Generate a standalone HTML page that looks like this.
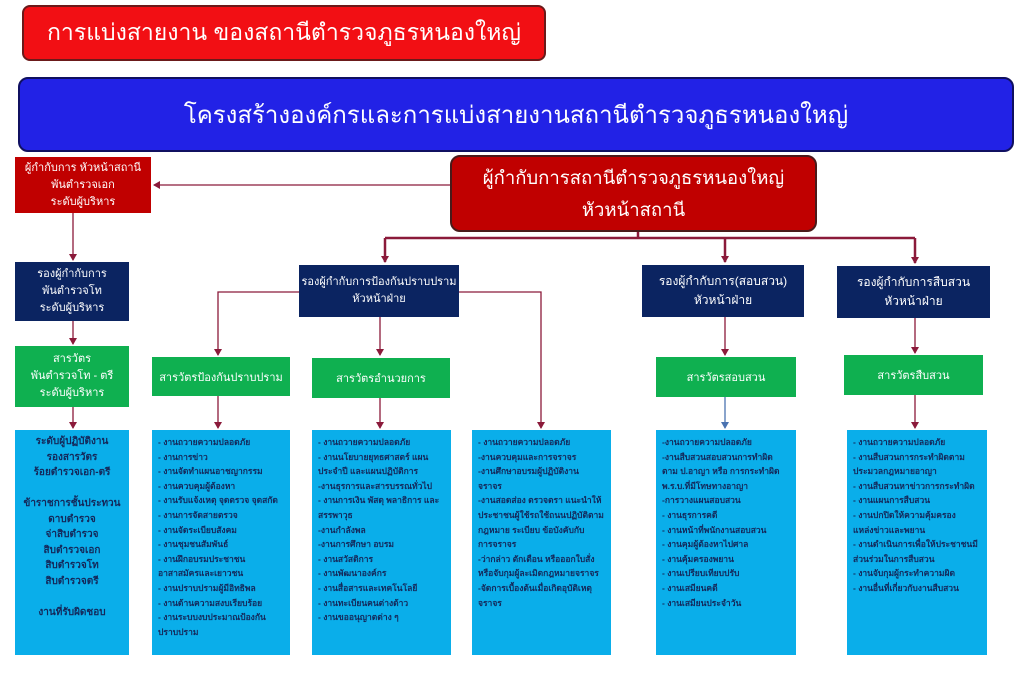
<!DOCTYPE html>
<html><head><meta charset="utf-8">
<style>
body{margin:0;width:1024px;height:673px;background:#fff;position:relative;overflow:hidden;font-family:"Liberation Sans","DejaVu Sans",sans-serif;}
.b{position:absolute;box-sizing:border-box;display:flex;align-items:center;justify-content:center;text-align:center;color:#fff;}
.red{background:#c00000;}
.navy{background:#0b2461;}
.green{background:#0fb050;}
.list{position:absolute;box-sizing:border-box;background:#0aaeea;color:#14285a;font-size:8.5px;font-weight:bold;line-height:14.6px;padding:5px 6px;}
svg{position:absolute;left:0;top:0;}
</style></head><body>
<svg width="1024" height="673">
<defs>
<marker id="a" markerWidth="8" markerHeight="8" refX="6" refY="4" orient="auto" markerUnits="userSpaceOnUse"><path d="M0,0 L7,4 L0,8z" fill="#8b1a3a"/></marker>
<marker id="bl" markerWidth="8" markerHeight="8" refX="6" refY="4" orient="auto" markerUnits="userSpaceOnUse"><path d="M0,0 L7,4 L0,8z" fill="#4a72b0"/></marker>
</defs>
<g stroke="#8b1a3a" fill="none" stroke-width="1.3">
<line x1="450" y1="185" x2="154" y2="185" marker-end="url(#a)"/>
<line x1="73" y1="213" x2="73" y2="260" marker-end="url(#a)"/>
<line x1="73" y1="321" x2="73" y2="344" marker-end="url(#a)"/>
<line x1="73" y1="407" x2="73" y2="428" marker-end="url(#a)"/>
<g stroke-width="2.5">
<line x1="638" y1="232" x2="638" y2="238"/>
<line x1="385" y1="238" x2="915" y2="238"/>
<line x1="385" y1="238" x2="385" y2="262" marker-end="url(#a)"/>
<line x1="725" y1="238" x2="725" y2="262" marker-end="url(#a)"/>
<line x1="915" y1="238" x2="915" y2="263" marker-end="url(#a)"/>
</g>
<polyline points="299,292 218,292 218,355" marker-end="url(#a)"/>
<polyline points="459,292 541,292 541,428" marker-end="url(#a)"/>
<line x1="380" y1="317" x2="380" y2="355" marker-end="url(#a)"/>
<line x1="218" y1="396" x2="218" y2="428" marker-end="url(#a)"/>
<line x1="380" y1="398" x2="380" y2="428" marker-end="url(#a)"/>
<line x1="725" y1="317" x2="725" y2="355" marker-end="url(#a)"/>
<line x1="915" y1="318" x2="915" y2="353" marker-end="url(#a)"/>
<line x1="915" y1="395" x2="915" y2="428" marker-end="url(#a)"/>
<line x1="725" y1="397" x2="725" y2="428" stroke="#4a72b0" marker-end="url(#bl)"/>
</g>
</svg>

<div class="b" style="left:22px;top:5px;width:524px;height:56px;background:#f20f14;border:2px solid #6b1a1a;border-radius:8px;font-size:23px;">การแบ่งสายงาน ของสถานีตำรวจภูธรหนองใหญ่</div>
<div class="b" style="left:18px;top:77px;width:996px;height:75px;background:#2222e6;border:2px solid #101060;border-radius:10px;font-size:24px;">โครงสร้างองค์กรและการแบ่งสายงานสถานีตำรวจภูธรหนองใหญ่</div>

<div class="b red" style="left:15px;top:157px;width:136px;height:56px;font-size:11px;line-height:17px;">ผู้กำกับการ หัวหน้าสถานี<br>พันตำรวจเอก<br>ระดับผู้บริหาร</div>
<div class="b red" style="left:450px;top:155px;width:367px;height:77px;border:2px solid #4a1a1a;border-radius:10px;font-size:18.5px;line-height:32px;">ผู้กำกับการสถานีตำรวจภูธรหนองใหญ่<br>หัวหน้าสถานี</div>

<div class="b navy" style="left:15px;top:262px;width:114px;height:59px;font-size:11px;line-height:17px;">รองผู้กำกับการ<br>พันตำรวจโท<br>ระดับผู้บริหาร</div>
<div class="b navy" style="left:299px;top:265px;width:160px;height:52px;font-size:11px;line-height:17px;">รองผู้กำกับการป้องกันปราบปราม<br>หัวหน้าฝ่าย</div>
<div class="b navy" style="left:642px;top:265px;width:162px;height:52px;font-size:12px;line-height:19px;">รองผู้กำกับการ(สอบสวน)<br>หัวหน้าฝ่าย</div>
<div class="b navy" style="left:837px;top:266px;width:153px;height:52px;font-size:12px;line-height:19px;">รองผู้กำกับการสืบสวน<br>หัวหน้าฝ่าย</div>

<div class="b green" style="left:15px;top:346px;width:114px;height:61px;font-size:11px;line-height:17px;">สารวัตร<br>พันตำรวจโท - ตรี<br>ระดับผู้บริหาร</div>
<div class="b green" style="left:152px;top:357px;width:138px;height:39px;font-size:11px;">สารวัตรป้องกันปราบปราม</div>
<div class="b green" style="left:312px;top:358px;width:138px;height:40px;font-size:11px;">สารวัตรอำนวยการ</div>
<div class="b green" style="left:656px;top:357px;width:140px;height:40px;font-size:11px;">สารวัตรสอบสวน</div>
<div class="b green" style="left:844px;top:355px;width:139px;height:40px;font-size:11px;">สารวัตรสืบสวน</div>

<div class="list" style="left:15px;top:430px;width:114px;height:225px;text-align:center;font-size:10px;line-height:15.5px;padding-top:4px;">ระดับผู้ปฏิบัติงาน<br>รองสารวัตร<br>ร้อยตำรวจเอก-ตรี<br><br>ข้าราชการชั้นประทวน<br>ดาบตำรวจ<br>จ่าสิบตำรวจ<br>สิบตำรวจเอก<br>สิบตำรวจโท<br>สิบตำรวจตรี<br><br>งานที่รับผิดชอบ</div>
<div class="list" style="left:152px;top:430px;width:138px;height:225px;">- งานถวายความปลอดภัย<br>- งานการข่าว<br>- งานจัดทำแผนอาชญากรรม<br>- งานควบคุมผู้ต้องหา<br>- งานรับแจ้งเหตุ จุดตรวจ จุดสกัด<br>- งานการจัดสายตรวจ<br>- งานจัดระเบียบสังคม<br>- งานชุมชนสัมพันธ์<br>- งานฝึกอบรมประชาชน<br>อาสาสมัครและเยาวชน<br>- งานปราบปรามผู้มีอิทธิพล<br>- งานด้านความสงบเรียบร้อย<br>- งานระบบงบประมาณป้องกัน<br>ปราบปราม</div>
<div class="list" style="left:312px;top:430px;width:139px;height:225px;">- งานถวายความปลอดภัย<br>- งานนโยบายยุทธศาสตร์ แผน<br>ประจำปี และแผนปฏิบัติการ<br>-งานธุรการและสารบรรณทั่วไป<br>- งานการเงิน พัสดุ พลาธิการ และ<br>สรรพาวุธ<br>-งานกำลังพล<br>-งานการศึกษา อบรม<br>- งานสวัสดิการ<br>- งานพัฒนาองค์กร<br>- งานสื่อสารและเทคโนโลยี<br>- งานทะเบียนคนต่างด้าว<br>- งานขออนุญาตต่าง ๆ</div>
<div class="list" style="left:472px;top:430px;width:139px;height:225px;">- งานถวายความปลอดภัย<br>-งานควบคุมและการจราจร<br>-งานศึกษาอบรมผู้ปฏิบัติงาน<br>จราจร<br>-งานสอดส่อง ตรวจตรา แนะนำให้<br>ประชาชนผู้ใช้รถใช้ถนนปฏิบัติตาม<br>กฎหมาย ระเบียบ ข้อบังคับกับ<br>การจราจร<br>-ว่ากล่าว ตักเตือน หรือออกใบสั่ง<br>หรือจับกุมผู้ละเมิดกฎหมายจราจร<br>-จัดการเบื้องต้นเมื่อเกิดอุบัติเหตุ<br>จราจร</div>
<div class="list" style="left:656px;top:430px;width:140px;height:225px;">-งานถวายความปลอดภัย<br>-งานสืบสวนสอบสวนการทำผิด<br>ตาม ป.อาญา หรือ การกระทำผิด<br>พ.ร.บ.ที่มีโทษทางอาญา<br>-การวางแผนสอบสวน<br>- งานธุรการคดี<br>- งานหน้าที่พนักงานสอบสวน<br>- งานคุมผู้ต้องหาไปศาล<br>- งานคุ้มครองพยาน<br>- งานเปรียบเทียบปรับ<br>- งานเสมียนคดี<br>- งานเสมียนประจำวัน</div>
<div class="list" style="left:847px;top:430px;width:140px;height:225px;">- งานถวายความปลอดภัย<br>- งานสืบสวนการกระทำผิดตาม<br>ประมวลกฎหมายอาญา<br>- งานสืบสวนหาข่าวการกระทำผิด<br>- งานแผนการสืบสวน<br>- งานปกปิดให้ความคุ้มครอง<br>แหล่งข่าวและพยาน<br>- งานดำเนินการเพื่อให้ประชาชนมี<br>ส่วนร่วมในการสืบสวน<br>- งานจับกุมผู้กระทำความผิด<br>- งานอื่นที่เกี่ยวกับงานสืบสวน</div>
</body></html>
